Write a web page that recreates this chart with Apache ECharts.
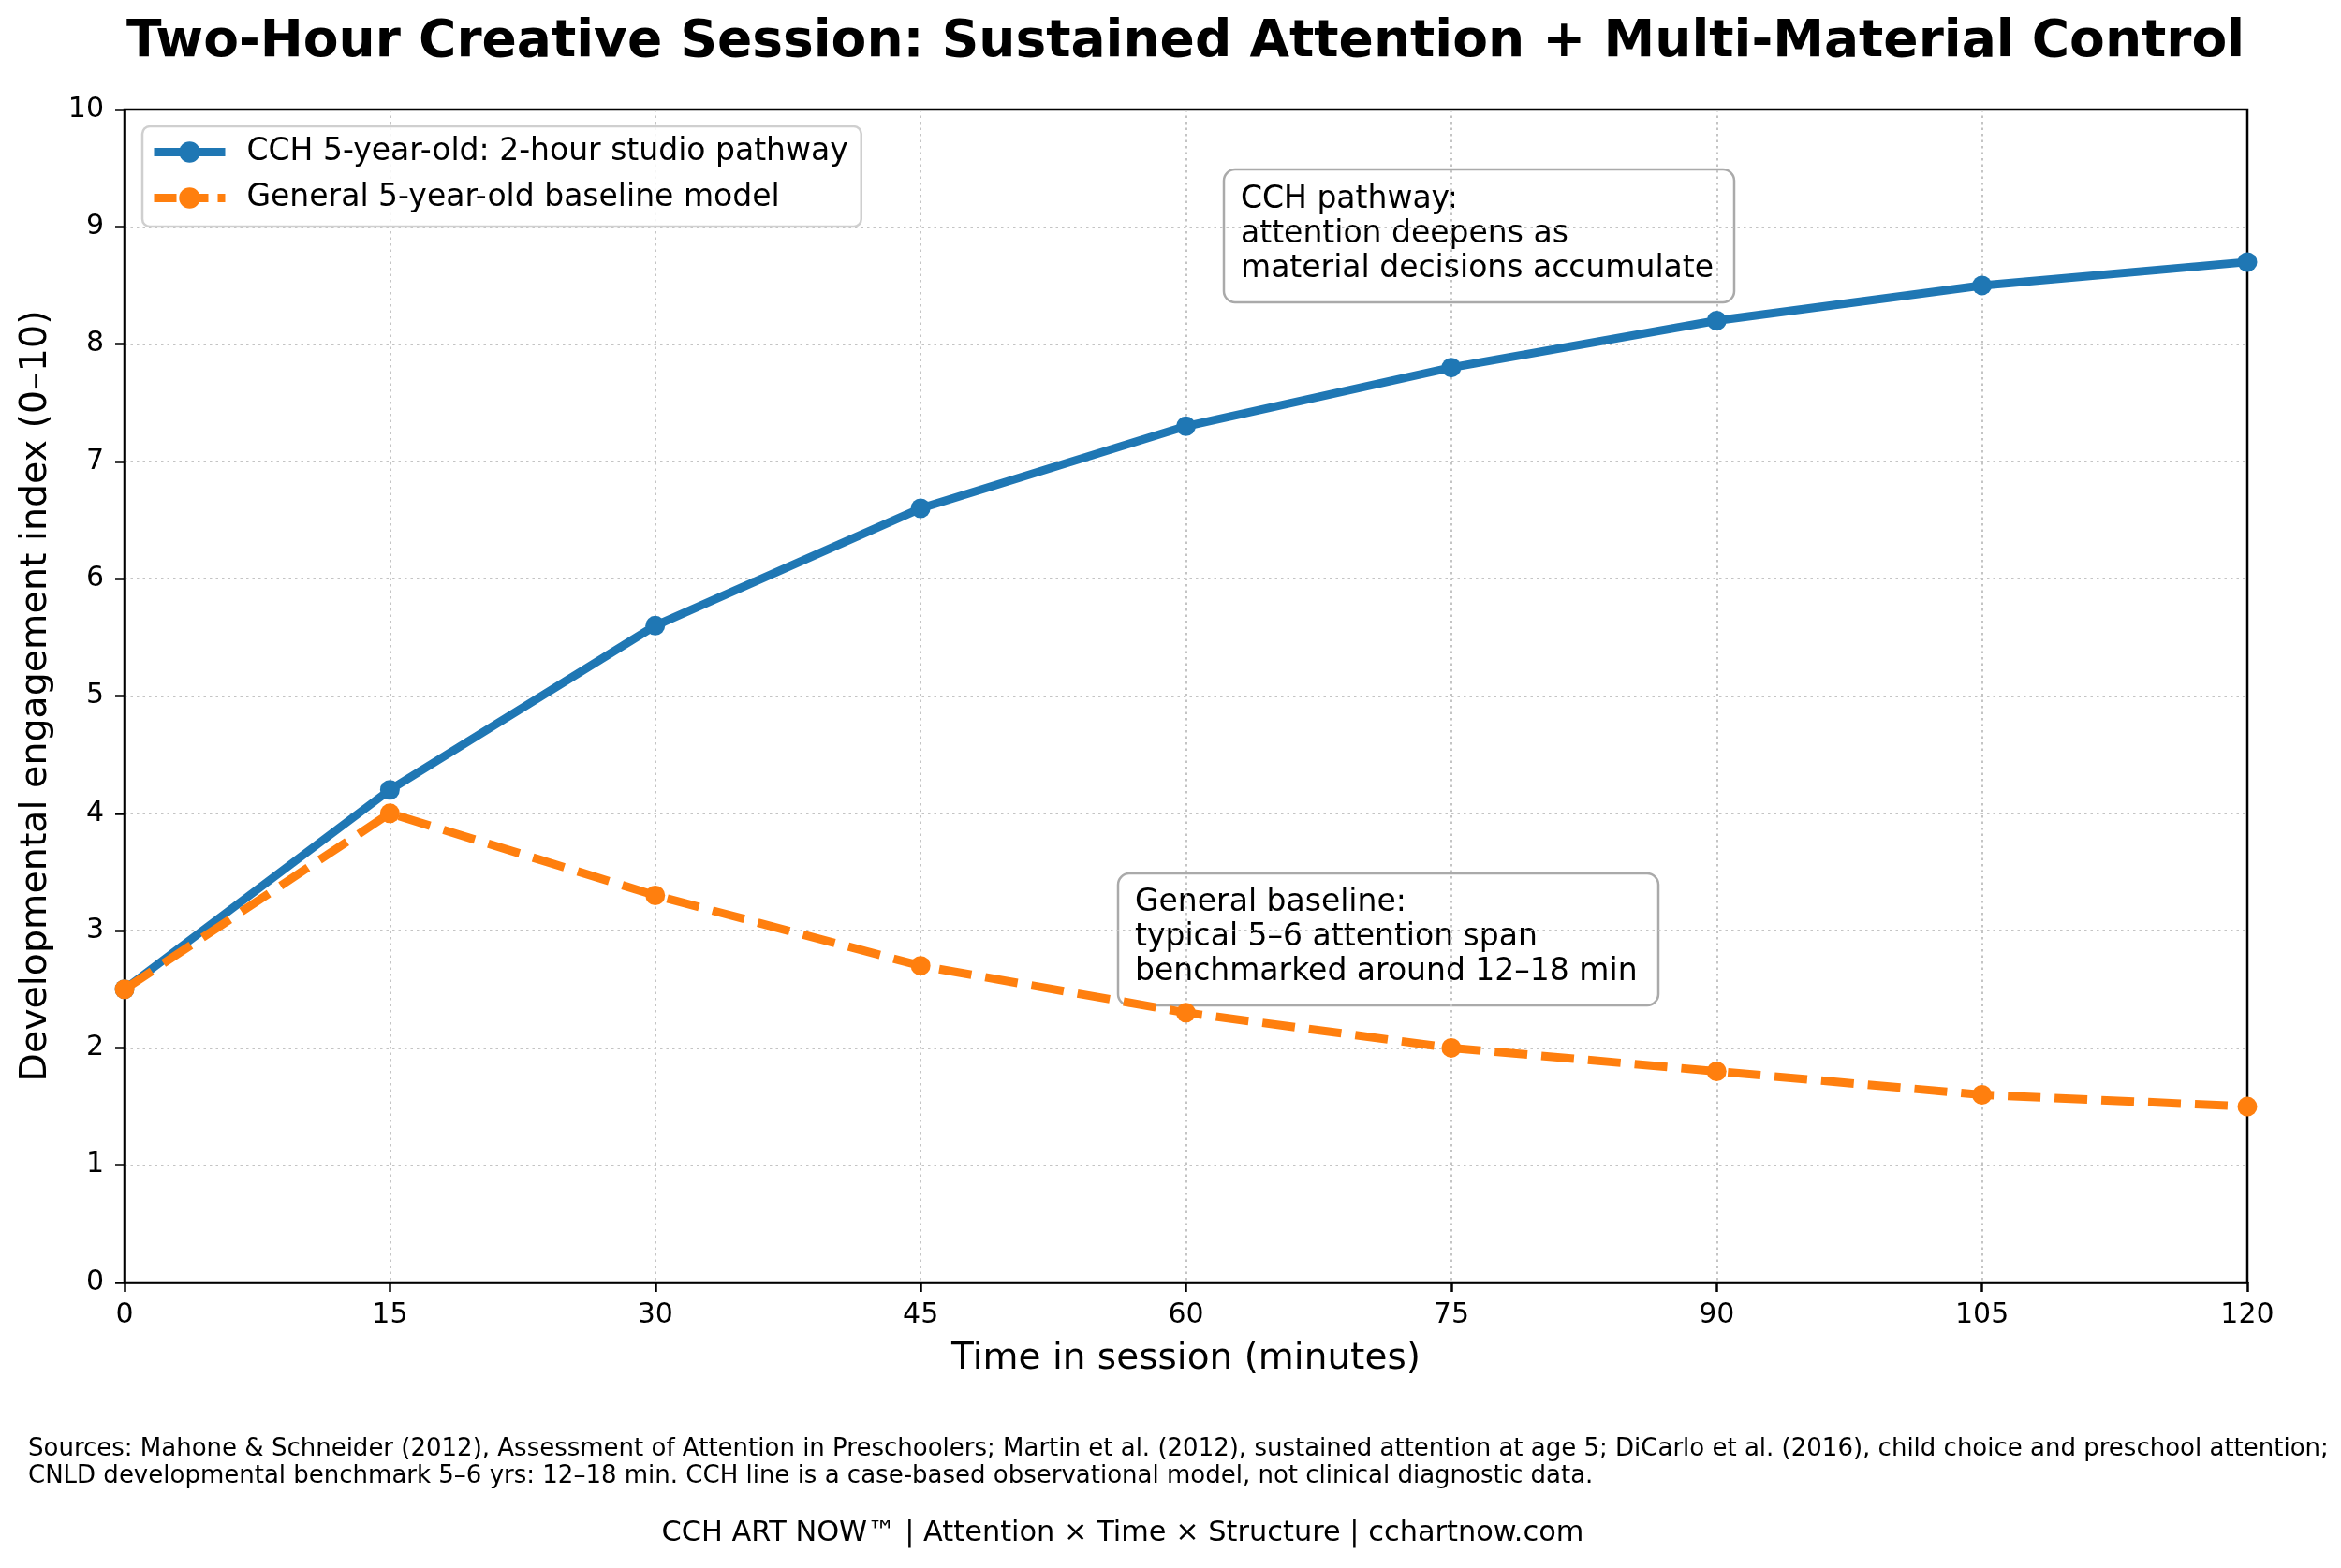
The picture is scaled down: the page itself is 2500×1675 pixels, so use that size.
<!DOCTYPE html>
<html>
<head>
<meta charset="utf-8">
<script src="https://cdn.jsdelivr.net/npm/echarts@6/dist/echarts.min.js"></script>
<style>
  html, body { margin: 0; padding: 0; background: #fff; }
  #chart { width: 2500px; height: 1675px; }
</style>
</head>
<body>
<div id="chart"></div>
<script>
// data
var minutes = [0, 15, 30, 45, 60, 75, 90, 105, 120];
var cchValues = [2.5, 4.2, 5.6, 6.6, 7.3, 7.8, 8.2, 8.5, 8.7];
var baselineValues = [2.5, 4.0, 3.3, 2.7, 2.3, 2.0, 1.8, 1.6, 1.5];
var seriesNames = ["CCH 5-year-old: 2-hour studio pathway", "General 5-year-old baseline model"];
var seriesColors = ["#1f77b4", "#ff7f0e"];

var FONT = "DejaVu Sans";
var DASH = [35, 15];

var dom = document.getElementById("chart");
var myChart = echarts.init(dom, null, { renderer: "canvas" });

function pairs(xs, ys) {
  return xs.map(function (x, i) { return [x, ys[i]]; });
}

var gridStyle = { color: "#c4c4c4", width: 2, type: [2.5, 4] };

var option = {
  animation: false,
  backgroundColor: "#fff",
  textStyle: { fontFamily: FONT },
  grid: {
    left: 133, top: 117, right: 100, bottom: 305,
    show: true, borderColor: "#000", borderWidth: 2.5
  },
  legend: {
    orient: "vertical",
    left: 152, top: 135,
    padding: [11, 14, 14, 8],
    itemGap: 16,
    itemWidth: 76, itemHeight: 28,
    backgroundColor: "rgba(255,255,255,0.85)",
    borderColor: "#cfcfcf", borderWidth: 2.5, borderRadius: 8,
    textStyle: { fontFamily: FONT, fontSize: 33, color: "#000", padding: [0, 0, 0, 18] },
    data: [
      { name: seriesNames[0], lineStyle: { width: 9, color: seriesColors[0], type: "solid" } },
      { name: seriesNames[1], lineStyle: { width: 9, color: seriesColors[1], type: [24, 10], cap: "butt" } }
    ]
  },
  xAxis: {
    type: "value",
    min: 0, max: 120, interval: 15,
    name: "Time in session (minutes)",
    nameLocation: "middle", nameGap: 62,
    nameTextStyle: { fontFamily: FONT, fontSize: 39, color: "#000" },
    axisLine: { show: true, lineStyle: { color: "#000", width: 2.5 } },
    axisTick: { show: true, length: 10, lineStyle: { color: "#000", width: 2.5 } },
    axisLabel: { fontFamily: FONT, fontSize: 30, color: "#000", margin: 20 },
    splitLine: { show: true, showMinLine: false, showMaxLine: false, lineStyle: gridStyle }
  },
  yAxis: {
    type: "value",
    min: 0, max: 10, interval: 1,
    name: "Developmental engagement index (0–10)",
    nameLocation: "middle", nameGap: 74,
    nameTextStyle: { fontFamily: FONT, fontSize: 39.5, color: "#000" },
    axisLine: { show: true, lineStyle: { color: "#000", width: 2.5 } },
    axisTick: { show: true, length: 10, lineStyle: { color: "#000", width: 2.5 } },
    axisLabel: { fontFamily: FONT, fontSize: 30, color: "#000", margin: 22 },
    splitLine: { show: true, showMinLine: false, showMaxLine: false, lineStyle: gridStyle }
  },
  series: [
    {
      name: seriesNames[0],
      type: "line",
      data: pairs(minutes, cchValues),
      symbol: "circle", symbolSize: 21,
      itemStyle: { color: seriesColors[0] },
      lineStyle: { color: seriesColors[0], width: 9, join: "round" },
      z: 2
    },
    {
      name: seriesNames[1],
      type: "line",
      data: pairs(minutes, baselineValues),
      symbol: "circle", symbolSize: 21,
      itemStyle: { color: seriesColors[1] },
      lineStyle: { color: seriesColors[1], width: 9, type: DASH, cap: "butt", join: "round" },
      z: 3
    }
  ],
  graphic: [
    {
      type: "text",
      x: 1266, y: 46,
      style: {
        text: "Two-Hour Creative Session: Sustained Attention + Multi-Material Control",
        font: "bold 55px " + FONT, fill: "#000",
        textAlign: "center", textVerticalAlign: "middle"
      }
    },
    {
      type: "group", z: 10,
      children: [
        {
          type: "rect",
          shape: { x: 1307, y: 181, width: 545, height: 142, r: 12 },
          style: { fill: "#fff", stroke: "#aaaaaa", lineWidth: 2.5 }
        },
        {
          type: "text", x: 1325, y: 195,
          style: {
            text: "CCH pathway:\nattention deepens as\nmaterial decisions accumulate",
            font: "33px " + FONT, fill: "#000", lineHeight: 37,
            textAlign: "left", textVerticalAlign: "top"
          }
        }
      ]
    },
    {
      type: "group", z: 10,
      children: [
        {
          type: "rect",
          shape: { x: 1194, y: 933, width: 577, height: 141, r: 12 },
          style: { fill: "#fff", stroke: "#aaaaaa", lineWidth: 2.5 }
        },
        {
          type: "text", x: 1212, y: 946,
          style: {
            text: "General baseline:\ntypical 5–6 attention span\nbenchmarked around 12–18 min",
            font: "33px " + FONT, fill: "#000", lineHeight: 37,
            textAlign: "left", textVerticalAlign: "top"
          }
        }
      ]
    },
    {
      type: "text", x: 30, y: 1534,
      style: {
        text: "Sources: Mahone & Schneider (2012), Assessment of Attention in Preschoolers; Martin et al. (2012), sustained attention at age 5; DiCarlo et al. (2016), child choice and preschool attention;\nCNLD developmental benchmark 5–6 yrs: 12–18 min. CCH line is a case-based observational model, not clinical diagnostic data.",
        font: "26px " + FONT, fill: "#000", lineHeight: 29,
        textAlign: "left", textVerticalAlign: "top"
      }
    },
    {
      type: "text", x: 1199, y: 1638,
      style: {
        text: "CCH ART NOW™ | Attention × Time × Structure | cchartnow.com",
        font: "30.4px " + FONT, fill: "#000",
        textAlign: "center", textVerticalAlign: "middle"
      }
    }
  ]
};

option && myChart.setOption(option);

window.addEventListener("resize", myChart.resize);
</script>
</body>
</html>
